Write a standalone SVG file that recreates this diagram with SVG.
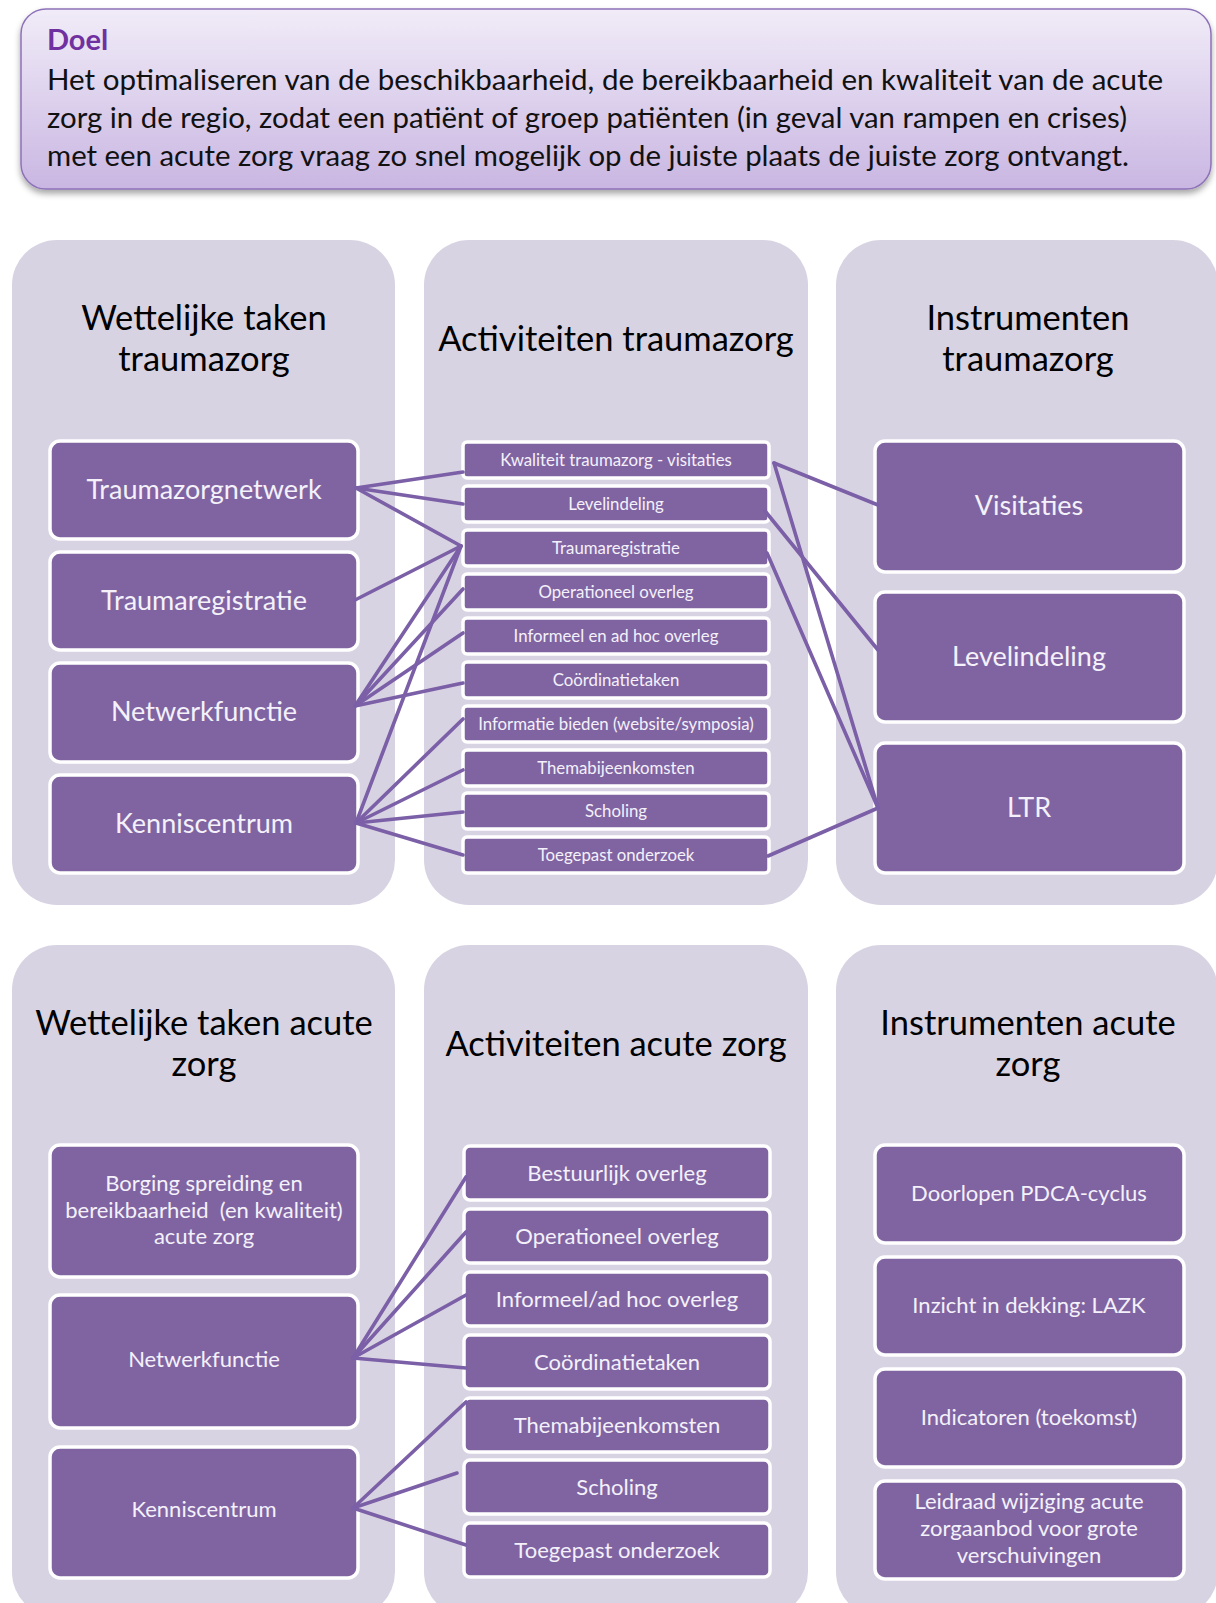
<svg xmlns="http://www.w3.org/2000/svg" width="1216" height="1603" viewBox="0 0 1216 1603">
<defs>
<linearGradient id="hdr" x1="0" y1="0" x2="0" y2="1">
<stop offset="0" stop-color="#f1ecf8"/>
<stop offset="1" stop-color="#c9b6e2"/>
</linearGradient>
<filter id="sh" x="-5%" y="-10%" width="110%" height="130%">
<feDropShadow dx="0" dy="4" stdDeviation="3" flood-color="#000" flood-opacity="0.35"/>
</filter>
</defs>
<style>
.panel{fill:#d8d3e2}
.node{fill:#8064a2;stroke:#ffffff;stroke-width:3.5}
.t{font-family:Lato,"Liberation Sans",sans-serif;fill:#f4f1fa;text-anchor:middle}
.ttl{font-family:Lato,"Liberation Sans",sans-serif;fill:#000;text-anchor:middle;font-size:34.5px}
.big{font-size:27px}
.sm{font-size:16.8px}
.md{font-size:22px}
.conn line{stroke:#7b5fa7;stroke-width:3.6;stroke-linecap:round}
.body{font-family:Lato,"Liberation Sans",sans-serif;font-size:28px;fill:#111}
</style>
<rect width="1216" height="1603" fill="#ffffff"/>

<g id="doel">
<rect x="21" y="9" width="1190" height="180" rx="25" fill="url(#hdr)" stroke="#8d72b8" stroke-width="1.5" filter="url(#sh)"/>
<text x="47" y="50" font-family="Lato,'Liberation Sans',sans-serif" font-size="29" font-weight="bold" fill="#7030a0">Doel</text>
<text class="body" x="47" y="90" textLength="1116" lengthAdjust="spacingAndGlyphs">Het optimaliseren van de beschikbaarheid, de bereikbaarheid en kwaliteit van de acute</text>
<text class="body" x="47" y="128" textLength="1080" lengthAdjust="spacingAndGlyphs">zorg in de regio, zodat een patiënt of groep patiënten (in geval van rampen en crises)</text>
<text class="body" x="47" y="166" textLength="1082" lengthAdjust="spacingAndGlyphs">met een acute zorg vraag zo snel mogelijk op de juiste plaats de juiste zorg ontvangt.</text>
</g>

<g id="panels">
<rect class="panel" x="12" y="240" width="383" height="665" rx="45"/>
<rect class="panel" x="424" y="240" width="384" height="665" rx="45"/>
<rect class="panel" x="836" y="240" width="382" height="665" rx="45"/>
<rect class="panel" x="12" y="945" width="383" height="672" rx="45"/>
<rect class="panel" x="424" y="945" width="384" height="672" rx="45"/>
<rect class="panel" x="836" y="945" width="382" height="672" rx="45"/>
<text class="ttl" x="204" y="330">Wettelijke taken</text>
<text class="ttl" x="204" y="371">traumazorg</text>
<text class="ttl" x="616" y="351">Activiteiten traumazorg</text>
<text class="ttl" x="1028" y="330">Instrumenten</text>
<text class="ttl" x="1028" y="371">traumazorg</text>
<text class="ttl" x="204" y="1035">Wettelijke taken acute</text>
<text class="ttl" x="204" y="1076">zorg</text>
<text class="ttl" x="616" y="1056">Activiteiten acute zorg</text>
<text class="ttl" x="1028" y="1035">Instrumenten acute</text>
<text class="ttl" x="1028" y="1076">zorg</text>
</g>

<g id="wt-traumazorgnetwerk"><rect class="node" x="50" y="441" width="308" height="98" rx="10"/><text class="t big" x="204" y="499">Traumazorgnetwerk</text></g>
<g id="wt-traumaregistratie"><rect class="node" x="50" y="552" width="308" height="98" rx="10"/><text class="t big" x="204" y="610">Traumaregistratie</text></g>
<g id="wt-netwerkfunctie"><rect class="node" x="50" y="663" width="308" height="99" rx="10"/><text class="t big" x="204" y="721">Netwerkfunctie</text></g>
<g id="wt-kenniscentrum"><rect class="node" x="50" y="775" width="308" height="98" rx="10"/><text class="t big" x="204" y="833">Kenniscentrum</text></g>

<g id="at-kwaliteit"><rect class="node" x="463" y="442" width="306" height="36" rx="4"/><text class="t sm" x="616" y="466">Kwaliteit traumazorg - visitaties</text></g>
<g id="at-levelindeling"><rect class="node" x="463" y="486" width="306" height="36" rx="4"/><text class="t sm" x="616" y="510">Levelindeling</text></g>
<g id="at-traumaregistratie"><rect class="node" x="463" y="530" width="306" height="36" rx="4"/><text class="t sm" x="616" y="554">Traumaregistratie</text></g>
<g id="at-operationeel"><rect class="node" x="463" y="574" width="306" height="36" rx="4"/><text class="t sm" x="616" y="598">Operationeel overleg</text></g>
<g id="at-informeel"><rect class="node" x="463" y="618" width="306" height="36" rx="4"/><text class="t sm" x="616" y="642">Informeel en ad hoc overleg</text></g>
<g id="at-coordinatie"><rect class="node" x="463" y="662" width="306" height="36" rx="4"/><text class="t sm" x="616" y="686">Coördinatietaken</text></g>
<g id="at-informatie"><rect class="node" x="463" y="706" width="306" height="36" rx="4"/><text class="t sm" x="616" y="730">Informatie bieden (website/symposia)</text></g>
<g id="at-thema"><rect class="node" x="463" y="750" width="306" height="36" rx="4"/><text class="t sm" x="616" y="774">Themabijeenkomsten</text></g>
<g id="at-scholing"><rect class="node" x="463" y="793" width="306" height="36" rx="4"/><text class="t sm" x="616" y="817">Scholing</text></g>
<g id="at-toegepast"><rect class="node" x="463" y="837" width="306" height="36" rx="4"/><text class="t sm" x="616" y="861">Toegepast onderzoek</text></g>

<g id="it-visitaties"><rect class="node" x="875" y="441" width="309" height="131" rx="10"/><text class="t big" x="1029" y="515">Visitaties</text></g>
<g id="it-levelindeling"><rect class="node" x="875" y="592" width="309" height="130" rx="10"/><text class="t big" x="1029" y="666">Levelindeling</text></g>
<g id="it-ltr"><rect class="node" x="875" y="743" width="309" height="130" rx="10"/><text class="t big" x="1029" y="817">LTR</text></g>

<g id="wa-borging"><rect class="node" x="50" y="1145" width="308" height="132" rx="10"/><text class="t md" x="204" y="1191">Borging spreiding en</text><text class="t md" x="204" y="1218">bereikbaarheid&#160; (en kwaliteit)</text><text class="t md" x="204" y="1244">acute zorg</text></g>
<g id="wa-netwerkfunctie"><rect class="node" x="50" y="1295" width="308" height="133" rx="10"/><text class="t md" x="204" y="1367">Netwerkfunctie</text></g>
<g id="wa-kenniscentrum"><rect class="node" x="50" y="1447" width="308" height="131" rx="10"/><text class="t md" x="204" y="1517">Kenniscentrum</text></g>

<g id="aa-bestuurlijk"><rect class="node" x="464" y="1146" width="306" height="54" rx="6"/><text class="t md" x="617" y="1181">Bestuurlijk overleg</text></g>
<g id="aa-operationeel"><rect class="node" x="464" y="1209" width="306" height="54" rx="6"/><text class="t md" x="617" y="1244">Operationeel overleg</text></g>
<g id="aa-informeel"><rect class="node" x="464" y="1272" width="306" height="54" rx="6"/><text class="t md" x="617" y="1307">Informeel/ad hoc overleg</text></g>
<g id="aa-coordinatie"><rect class="node" x="464" y="1335" width="306" height="54" rx="6"/><text class="t md" x="617" y="1370">Coördinatietaken</text></g>
<g id="aa-thema"><rect class="node" x="464" y="1398" width="306" height="54" rx="6"/><text class="t md" x="617" y="1433">Themabijeenkomsten</text></g>
<g id="aa-scholing"><rect class="node" x="464" y="1460" width="306" height="54" rx="6"/><text class="t md" x="617" y="1495">Scholing</text></g>
<g id="aa-toegepast"><rect class="node" x="464" y="1523" width="306" height="54" rx="6"/><text class="t md" x="617" y="1558">Toegepast onderzoek</text></g>

<g id="ia-pdca"><rect class="node" x="875" y="1145" width="309" height="98" rx="10"/><text class="t md" x="1029" y="1201">Doorlopen PDCA-cyclus</text></g>
<g id="ia-lazk"><rect class="node" x="875" y="1257" width="309" height="98" rx="10"/><text class="t md" x="1029" y="1313">Inzicht in dekking: LAZK</text></g>
<g id="ia-indicatoren"><rect class="node" x="875" y="1369" width="309" height="98" rx="10"/><text class="t md" x="1029" y="1425">Indicatoren (toekomst)</text></g>
<g id="ia-leidraad"><rect class="node" x="875" y="1481" width="309" height="98" rx="10"/><text class="t md" x="1029" y="1509">Leidraad wijziging acute</text><text class="t md" x="1029" y="1536">zorgaanbod voor grote</text><text class="t md" x="1029" y="1563">verschuivingen</text></g>

<g id="connectors" class="conn">
<line x1="356" y1="488" x2="463" y2="472"/>
<line x1="356" y1="488" x2="463" y2="504"/>
<line x1="356" y1="488" x2="461" y2="546"/>
<line x1="355" y1="600" x2="461" y2="546"/>
<line x1="355" y1="706" x2="461" y2="546"/>
<line x1="355" y1="706" x2="463" y2="589"/>
<line x1="355" y1="706" x2="463" y2="633"/>
<line x1="355" y1="706" x2="463" y2="683"/>
<line x1="356" y1="823" x2="461" y2="546"/>
<line x1="356" y1="823" x2="463" y2="719"/>
<line x1="356" y1="823" x2="463" y2="770"/>
<line x1="356" y1="823" x2="463" y2="812"/>
<line x1="356" y1="823" x2="463" y2="855"/>
<line x1="774" y1="463" x2="878" y2="505"/>
<line x1="774" y1="463" x2="878" y2="808"/>
<line x1="765" y1="511" x2="878" y2="650"/>
<line x1="767" y1="553" x2="878" y2="808"/>
<line x1="768" y1="856" x2="878" y2="808"/>
<line x1="353" y1="1358" x2="466" y2="1177"/>
<line x1="353" y1="1358" x2="466" y2="1232"/>
<line x1="353" y1="1358" x2="466" y2="1295"/>
<line x1="353" y1="1358" x2="466" y2="1368"/>
<line x1="353" y1="1508" x2="466" y2="1402"/>
<line x1="353" y1="1508" x2="457" y2="1473"/>
<line x1="353" y1="1508" x2="466" y2="1545"/>
</g>
</svg>
